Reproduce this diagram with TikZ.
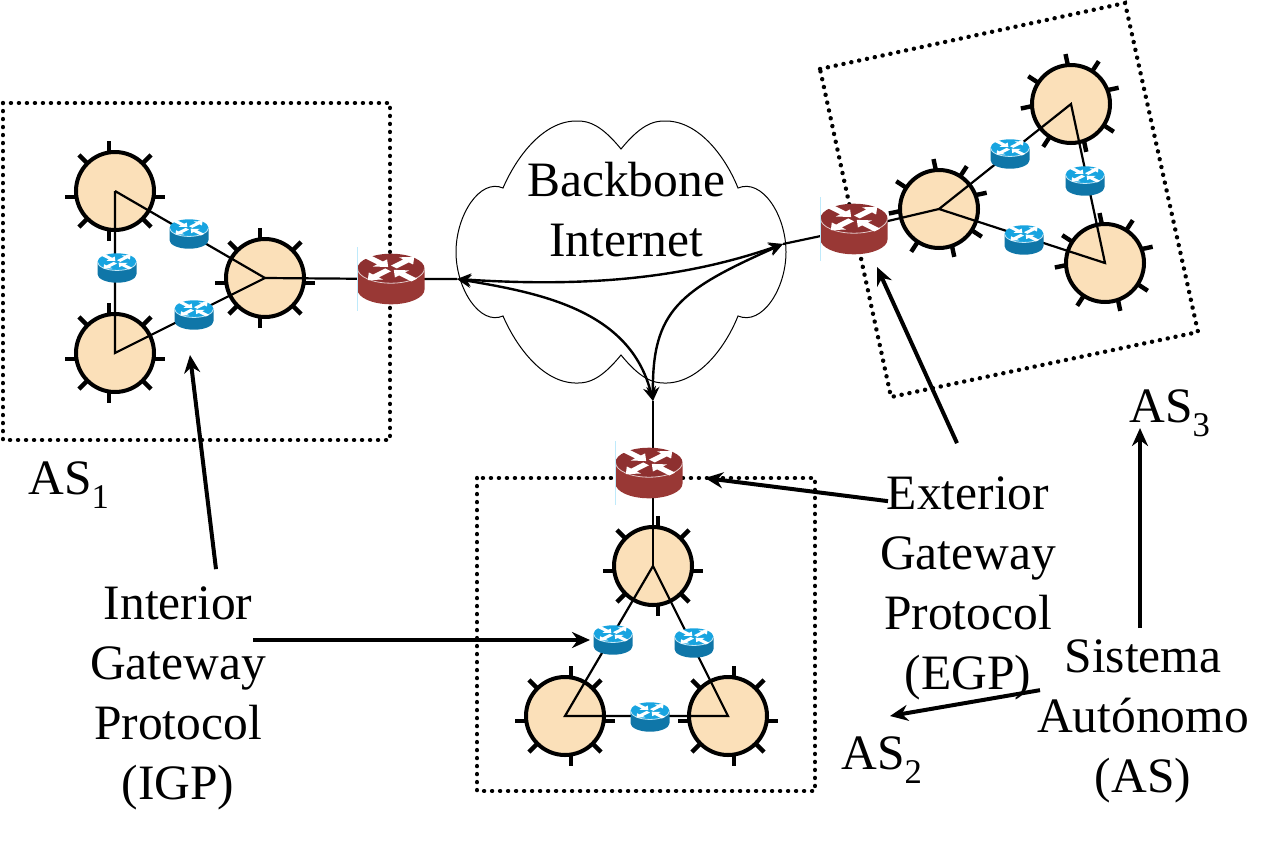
\documentclass[tikz,border=0pt]{standalone}
\usepackage{fontspec}
\setmainfont{Liberation Serif}
\usetikzlibrary{positioning,arrows.meta}

\definecolor{hubfill}{HTML}{FBE0B9}
\definecolor{redtop}{HTML}{8E3030}
\definecolor{redside}{HTML}{993835}
\definecolor{bluetop}{HTML}{18A4E0}
\definecolor{blueside}{HTML}{0F76A8}

\tikzset{
  hubnode/.style={circle,draw=black,fill=hubfill,line width=4pt,minimum size=78pt,inner sep=0pt},
  hubtick/.style={line width=4.4pt},
  link/.style={line width=2.2pt},
  dotbox/.style={line width=4.4pt,line cap=round,dash pattern=on 0.1pt off 7.9pt},
  curved/.style={line width=2.4pt,{Stealth[length=14pt,width=13pt]}-{Stealth[length=14pt,width=13pt]}},
  callout/.style={line width=4pt,-{Stealth[length=18pt,width=16pt]}},
  label/.style={font=\fontsize{49.5}{60}\selectfont,align=center,inner sep=0pt}
}

% name, position, rotation, offset of the upright ticks, offset of the level ticks
\newcommand{\hub}[5]{%
  \begin{scope}[shift={#2},rotate=#3]
    \foreach \a in {45,135,225,315} \draw[hubtick] (\a:34) -- (\a:51);
    \draw[hubtick] (#4,-50) -- (#4,-34) (#4,34) -- (#4,50);
    \draw[hubtick] (-50,#5) -- (-34,#5) (34,#5) -- (50,#5);
    \node[hubnode] (#1) at (0,0) {};
  \end{scope}}

% one point on the flattened lid of a router
\newcommand{\rpt}[2]{({\rw*.707*(\sx*(#1)-\sy*(#2))},{-\rh+\rw*.354*(\sy*(#1)+\sx*(#2))})}

% position, half width, top, side
\newcommand{\router}[4]{%
  \begin{scope}[shift={#1}]
    \def\rw{#2}
    \pgfmathsetmacro{\ry}{.44*#2}
    \pgfmathsetmacro{\rh}{.315*#2}
    \fill[#4] (-#2,-\rh) -- (-#2,\rh) arc[start angle=180,end angle=0,x radius=#2,y radius=\ry] -- (#2,-\rh) -- cycle;
    \fill[#3] (0,-\rh) ellipse[x radius=#2,y radius=\ry];
    \draw[white!75!#3,line width=.8pt] (-#2,-\rh) arc[start angle=180,end angle=0,x radius=#2,y radius=\ry];
    \foreach \sx/\sy/\ta/\tb in {-1/-1/.98/.12,1/-1/.12/.98,-1/1/.12/.98,1/1/.98/.12} {
      \pgfmathsetmacro{\tm}{\ta+.6*(\tb-\ta)}
      \fill[white] \rpt{\ta}{-.12} -- \rpt{\tm}{-.12} -- \rpt{\tm}{-.3} -- \rpt{\tb}{0} -- \rpt{\tm}{.3} -- \rpt{\tm}{.12} -- \rpt{\ta}{.12} -- cycle;
    }
  \end{scope}}

\begin{document}
\begin{tikzpicture}[x=1pt,y=-1pt]
\useasboundingbox (0,0) rectangle (1281,841);
%
\draw[dotbox] (3,103) rectangle (390,440);
\draw[dotbox] (477,478) rectangle (815,791);
\draw[dotbox] (820,69) -- (1125,3) -- (1198,332) -- (891,397) -- cycle;
%
\draw[line width=1pt] (621,149)
  .. controls (603,127) and (590,120) .. (575,121)
  .. controls (542,122) and (516,158) .. (503,188)
  .. controls (480,178) and (456,215) .. (456,252)
  .. controls (456,289) and (480,326) .. (503,316)
  .. controls (516,346) and (542,382) .. (575,383)
  .. controls (590,384) and (603,377) .. (621,355)
  .. controls (639,377) and (652,384) .. (667,383)
  .. controls (700,382) and (726,346) .. (738,316)
  .. controls (762,326) and (786,289) .. (786,252)
  .. controls (786,215) and (762,178) .. (738,188)
  .. controls (726,158) and (700,122) .. (667,121)
  .. controls (652,120) and (639,127) .. (621,149) -- cycle;
\node[label] (backbone) at (626,210) {Backbone\\Internet};
%
\hub{a1}{(115,191)}{0}{-6}{6}
\hub{a2}{(115,353)}{0}{-6}{6}
\hub{a3}{(265,278)}{0}{-5}{5}
\hub{b1}{(653,566)}{0}{5}{5}
\hub{b2}{(565,716)}{0}{6}{5}
\hub{b3}{(728,716)}{0}{6}{5}
\hub{c1}{(939,209)}{12}{5}{-6}
\hub{c2}{(1071,104)}{12}{5}{-6}
\hub{c3}{(1105,263)}{12}{5}{-6}
%
\coordinate (r1) at (391,279);
\coordinate (r2) at (649,473);
\coordinate (r3) at (854,229);
\coordinate (cloudW) at (457,279);
\coordinate (cloudE) at (783,244);
\coordinate (cloudS) at (653,401);
%
\draw[link] (a1.center) -- (a2.center) -- (a3.center) -- (a1.center);
\draw[link] (b1.center) -- (b2.center) -- (b3.center) -- (b1.center);
\draw[link] (c1.center) -- (c2.center) -- (c3.center) -- (c1.center);
\draw[link] (a3.center) -- (r1) -- (cloudW);
\draw[link] (cloudS) -- (b1.center);
\draw[link] (c1.center) -- (r3) -- (cloudE);
%
\draw[curved] (cloudW) .. controls (580,287) and (680,280) .. (cloudE);
\draw[curved] (cloudW) .. controls (540,293) and (630,310) .. (cloudS);
\draw[curved] (cloudS) .. controls (652,310) and (680,290) .. (cloudE);
%
\router{(117,268)}{19.5}{bluetop}{blueside}
\router{(189,234)}{19.5}{bluetop}{blueside}
\router{(194,315)}{19.5}{bluetop}{blueside}
\router{(613,640)}{19.5}{bluetop}{blueside}
\router{(694,643)}{19.5}{bluetop}{blueside}
\router{(650,717)}{19.5}{bluetop}{blueside}
\router{(1010,154)}{19.5}{bluetop}{blueside}
\router{(1085,181)}{19.5}{bluetop}{blueside}
\router{(1024,240)}{19.5}{bluetop}{blueside}
\router{(r1)}{33.5}{redtop}{redside}
\router{(r2)}{33.5}{redtop}{redside}
\router{(r3)}{33.5}{redtop}{redside}
\foreach \r in {r1,r2,r3}
  \draw[cyan!25,line width=.8pt] ([xshift=-33.5pt,yshift=32pt]\r) -- ([xshift=-33.5pt,yshift=-32pt]\r);
%
\node[label] (as1) at (69,485) {AS\textsubscript{1}};
\node[label] (as2) at (882,760) {AS\textsubscript{2}};
\node[label] (as3) at (1170,413) {AS\textsubscript{3}};
\node[label] (igp) at (178,698) {Interior\\Gateway\\Protocol\\(IGP)};
\node[label] (egp) at (968,588) {Exterior\\Gateway\\Protocol\\(EGP)};
\node[label] (sis) at (1143,721) {Sistema\\Autónomo\\(AS)};
%
\coordinate (tipA) at (190,355);
\coordinate (tipB) at (590,640);
\coordinate (tipC) at (705,478);
\coordinate (tipD) at (877,267);
\coordinate (tipE) at (1140,428);
\coordinate (tipF) at (890,716);
\draw[callout] ([xshift=38pt,yshift=17pt]igp.north) -- (tipA);
\draw[callout] ([xshift=-13pt]igp.east |- tipB) -- (tipB);
\draw[callout] ([xshift=-80pt,yshift=-25pt]egp.north) -- (tipC);
\draw[callout] ([xshift=-11pt,yshift=33pt]egp.north) -- (tipD);
\draw[callout] ([xshift=-3pt,yshift=11pt]sis.north) -- (tipE);
\draw[callout] ([xshift=-103pt,yshift=-51pt]sis.north) -- (tipF);
\end{tikzpicture}
\end{document}
